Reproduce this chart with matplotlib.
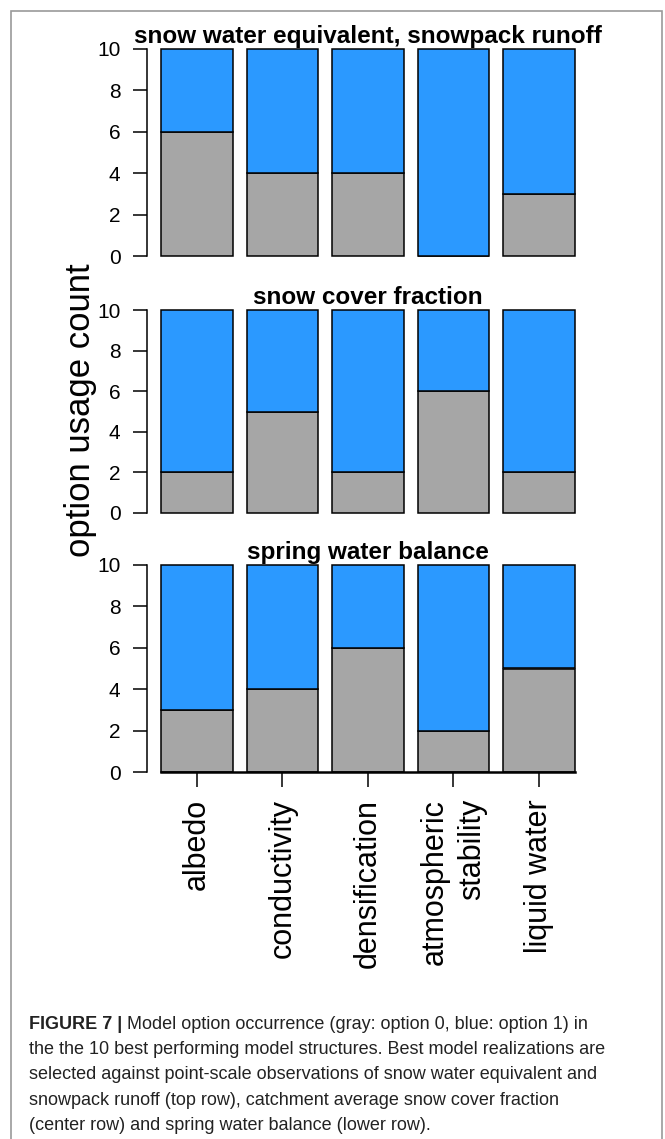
import numpy as np
import matplotlib
matplotlib.use("Agg")
import matplotlib.pyplot as plt
from matplotlib.patches import Rectangle

plt.rcParams['font.family'] = ['Liberation Sans', 'DejaVu Sans']

options = ['albedo', 'conductivity', 'densification', 'atmospheric\nstability', 'liquid water']
titles = ['snow water equivalent, snowpack runoff', 'snow cover fraction', 'spring water balance']
total = 10
gray_swe = [6, 4, 4, 0, 3]     # option 0 counts, top row
gray_scf = [2, 5, 2, 6, 2]     # option 0 counts, center row
gray_spring = [3, 4, 6, 2, 5]  # option 0 counts, lower row
yticks = [0, 2, 4, 6, 8, 10]

GRAY = '#A6A6A6'
BLUE = '#2B99FF'

W, H = 665, 1139
fig = plt.figure(figsize=(W / 100, H / 100), dpi=100)

# panel extents in pixels from the top
panels = [(49, 256), (310, 513), (565, 772)]
x_left, x_right = 147, 588.75

centers = 0.7 + 1.2 * np.arange(len(options))
all_gray = [gray_swe, gray_scf, gray_spring]

for i, ((top, bot), gray, title) in enumerate(zip(panels, all_gray, titles)):
    ax = fig.add_axes([x_left / W, 1 - bot / H, (x_right - x_left) / W, (bot - top) / H])
    gray = np.array(gray)
    blue = total - gray
    ax.bar(centers, gray, width=1.0, color=GRAY, edgecolor='black', linewidth=1.1, clip_on=False)
    ax.bar(centers, blue, width=1.0, bottom=gray, color=BLUE, edgecolor='black', linewidth=1.1, clip_on=False)
    ax.set_xlim(0, 6.2)
    ax.set_ylim(0, 10)
    for s in ['top', 'right', 'bottom']:
        ax.spines[s].set_visible(False)
    ax.spines['left'].set_linewidth(1.1)
    ax.set_yticks(yticks)
    ax.tick_params(axis='y', length=10, width=1.1, pad=9, labelsize=15)
    ax.annotate(title, xy=(0.5, 1), xycoords='axes fraction', xytext=(0, 4.5),
                textcoords='offset points', ha='center', va='baseline',
                fontsize=17.5, fontweight='bold')
    if i == 2:
        ax.plot([0.2, 6.0], [0, 0], color='black', lw=1.8, clip_on=False, zorder=5)
        ax.set_xticks(centers)
        ax.set_xticklabels(options, rotation=90, fontsize=22)
        for lab in ax.get_xticklabels():
            lab.set_multialignment('right')
            lab.set_linespacing(1.3)
        ax.tick_params(axis='x', length=10.5, width=1.1, pad=9)
    else:
        ax.set_xticks([])

fig.text(81 / W, 1 - 410 / H, 'option usage count', rotation=90, ha='center', va='center', fontsize=25)

# frame around the figure
fig.patches.append(Rectangle((11 / W, -0.05), (662 - 11) / W, 1 - 11 / H + 0.05, fill=False,
                             edgecolor='#9a9a9a', linewidth=1.2, transform=fig.transFigure))

# caption
cap_lines = [
    'Model option occurrence (gray: option 0, blue: option 1) in',
    'the the 10 best performing model structures. Best model realizations are',
    'selected against point-scale observations of snow water equivalent and',
    'snowpack runoff (top row), catchment average snow cover fraction',
    '(center row) and spring water balance (lower row).',
]
cap_size = 13
cap_x = 29
base = 1029
step = 25.2
bold = fig.text(cap_x / W, 1 - base / H, 'FIGURE 7 |', fontsize=cap_size, fontweight='bold',
                va='baseline', color='#222222')
renderer = fig.canvas.get_renderer()
bb = bold.get_window_extent(renderer)
fig.text((bb.x1 + 5) / W, 1 - base / H, cap_lines[0], fontsize=cap_size, va='baseline', color='#222222')
for k, line in enumerate(cap_lines[1:], start=1):
    fig.text(cap_x / W, 1 - (base + k * step) / H, line, fontsize=cap_size, va='baseline', color='#222222')

fig.savefig('out.png', dpi=100)
